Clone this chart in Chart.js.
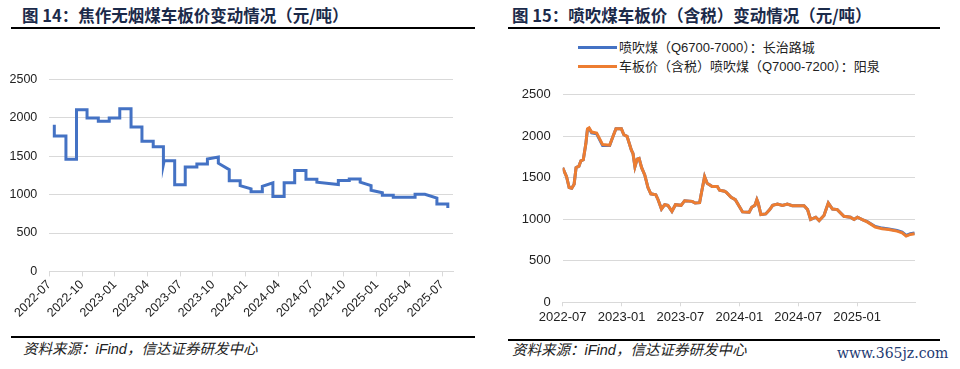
<!DOCTYPE html>
<html>
<head>
<meta charset="utf-8">
<script src="https://cdn.jsdelivr.net/npm/chart.js@4.4.1/dist/chart.umd.min.js"></script>
<style>
body{margin:0;width:960px;height:369px;background:#fff;position:relative;overflow:hidden;font-family:"Liberation Sans","Noto Sans CJK SC",sans-serif;}
.title{position:absolute;top:5px;font-size:16.5px;font-weight:bold;color:#1b2a4a;font-family:"Noto Sans CJK SC",sans-serif;line-height:20px;white-space:nowrap;}
.rule{position:absolute;height:2px;background:#000;}
.src{position:absolute;font-size:14.5px;font-style:italic;color:#222;line-height:18px;white-space:nowrap;}
canvas{position:absolute;}
.leg{position:absolute;left:578px;font-size:13px;color:#222;line-height:16px;white-space:nowrap;}
.leg i{display:inline-block;width:39px;height:3px;vertical-align:middle;margin-right:2px;position:relative;top:-1px;}
.wm{position:absolute;left:837px;top:344px;font-family:"DejaVu Serif",serif;font-size:14px;color:#1f3b73;line-height:18px;}
</style>
</head>
<body>
<div class="title" style="left:22px">图 14：焦作无烟煤车板价变动情况（元/吨）</div>
<div class="rule" style="left:11px;top:27px;width:464px"></div>
<canvas id="left" width="470" height="275" style="left:0;top:60px;width:470px;height:275px"></canvas>
<div class="rule" style="left:11px;top:336px;width:464px"></div>
<div class="src" style="left:23px;top:340px">资料来源：iFind，信达证券研发中心</div>

<div class="title" style="left:512px">图 15：喷吹煤车板价（含税）变动情况（元/吨）</div>
<div class="rule" style="left:508px;top:27px;width:432px"></div>
<div class="leg" style="top:40px"><i id="lg1"></i>喷吹煤（Q6700-7000）：长治路城</div>
<div class="leg" style="top:59px"><i id="lg2"></i>车板价（含税）喷吹煤（Q7000-7200）：阳泉</div>
<canvas id="right" width="460" height="255" style="left:480px;top:75px;width:460px;height:255px"></canvas>
<div class="rule" style="left:508px;top:339px;width:432px"></div>
<div class="src" style="left:512px;top:341px">资料来源：iFind，信达证券研发中心</div>
<div class="wm">www.365jz.com</div>

<script>
// 图14 焦作无烟煤车板价
const leftDates = [
  '2022-07-15','2022-07-15','2022-08-17','2022-08-17','2022-09-16','2022-09-16',
  '2022-10-15','2022-10-15','2022-11-16','2022-11-16','2022-12-16','2022-12-16',
  '2023-01-15','2023-01-15','2023-02-16','2023-02-16','2023-03-16','2023-03-16',
  '2023-04-17','2023-04-17','2023-05-15','2023-05-15','2023-05-17','2023-06-16',
  '2023-06-16','2023-07-15','2023-07-15','2023-08-17','2023-08-17','2023-09-16',
  '2023-09-16','2023-10-16','2023-10-16','2023-11-16','2023-11-16','2023-12-16',
  '2023-12-16','2024-01-16','2024-01-16','2024-02-17','2024-02-17','2024-03-16',
  '2024-03-16','2024-04-17','2024-04-17','2024-05-16','2024-05-16','2024-06-17',
  '2024-06-17','2024-07-17','2024-07-17','2024-09-16','2024-09-16','2024-10-16',
  '2024-10-16','2024-11-16','2024-11-16','2024-12-16','2024-12-16','2025-01-17',
  '2025-01-17','2025-02-17','2025-02-17','2025-04-17','2025-04-17','2025-05-14',
  '2025-06-17','2025-06-17','2025-07-17','2025-07-17'
];
const leftValues = [
  1910,1765,1765,1460,1460,2105,
  2105,2000,2000,1955,1955,2000,
  2000,2120,2120,1880,1880,1695,
  1695,1625,1625,1395,1440,1440,
  1130,1130,1360,1360,1400,1400,
  1465,1490,1410,1326,1180,1180,
  1117,1075,1038,1038,1109,1155,
  975,975,1155,1155,1314,1314,
  1201,1201,1163,1132,1184,1184,
  1205,1205,1163,1117,1056,1025,
  992,992,965,965,1004,1004,
  954,879,879,825
];

// 图15 喷吹煤车板价（含税）
const rightDates = [
  '2022-07-01','2022-07-13','2022-07-21','2022-07-29','2022-08-06','2022-08-12','2022-08-21','2022-08-27',
  '2022-09-04','2022-09-12','2022-09-17','2022-09-22','2022-09-30','2022-10-15','2022-11-03','2022-11-25',
  '2022-12-05','2022-12-14','2022-12-31','2023-01-08','2023-01-18','2023-02-01','2023-02-06','2023-02-12',
  '2023-02-19','2023-02-25','2023-03-02','2023-03-12','2023-03-22','2023-03-31','2023-04-16','2023-04-23',
  '2023-05-03','2023-05-13','2023-05-23','2023-06-05','2023-06-16','2023-07-03','2023-07-14','2023-08-07',
  '2023-08-16','2023-08-30','2023-09-06','2023-09-15','2023-09-23','2023-10-08','2023-10-24','2023-10-31',
  '2023-11-16','2023-11-21','2023-12-06','2023-12-19','2024-01-11','2024-02-01','2024-02-09','2024-02-19',
  '2024-02-25','2024-02-29','2024-03-07','2024-03-22','2024-04-04','2024-04-13','2024-04-28','2024-05-13',
  '2024-05-28','2024-06-13','2024-07-19','2024-07-30','2024-08-09','2024-08-25','2024-09-05','2024-09-20',
  '2024-10-03','2024-10-16','2024-10-31','2024-11-21','2024-12-11','2024-12-22','2025-01-02','2025-01-17',
  '2025-02-02','2025-02-27','2025-03-18','2025-04-08','2025-05-03','2025-05-19','2025-06-01','2025-06-14',
  '2025-06-27'
];
const changzhiValues = [
  1621,1514,1383,1375,1422,1621,1641,1705,
  1717,1912,2085,2095,2040,2030,1890,1888,
  2000,2090,2090,2019,2000,1832,1792,1633,
  1725,1733,1625,1534,1383,1307,1295,1236,
  1124,1176,1168,1097,1176,1168,1224,1216,
  1196,1200,1335,1514,1434,1395,1395,1350,
  1338,1327,1264,1236,1089,1085,1144,1168,
  1236,1196,1057,1065,1117,1168,1184,1168,
  1184,1164,1164,1117,997,1025,985,1045,
  1196,1124,1117,1037,1025,997,1025,997,
  972,914,894,884,866,845,805,826,
  835
];
const yangquanValues = [
  1621,1514,1383,1375,1422,1621,1641,1705,
  1717,1912,2090,2102,2051,2039,1900,1892,
  2000,2090,2090,2019,2000,1832,1792,1633,
  1725,1733,1625,1534,1383,1307,1295,1236,
  1124,1176,1168,1097,1176,1168,1224,1216,
  1196,1200,1335,1514,1434,1395,1395,1350,
  1338,1327,1264,1236,1089,1085,1144,1168,
  1236,1196,1057,1065,1117,1168,1184,1168,
  1184,1164,1164,1117,997,1025,985,1045,
  1196,1124,1117,1037,1025,997,1025,997,
  969,906,886,878,858,838,798,818,
  826
];

const blue = '#4472c4';
const orange = '#ed7d31';
const gridColor = '#d9d9d9';
const tickFont = {family: '"Liberation Sans", Arial, sans-serif', size: 12.5};

// 月份序号：2022-07-01 为 0
function monthIndex(s) {
  const [y, m, d] = s.split('-').map(Number);
  return (y - 2022) * 12 + (m - 7) + (d - 1) / 30.5;
}
function monthLabel(v) {
  const n = Math.round(v);
  const y = 2022 + Math.floor((n + 6) / 12);
  const m = (n + 6) % 12 + 1;
  return y + '-' + String(m).padStart(2, '0');
}
function toPoints(dates, values) {
  return dates.map((d, i) => ({x: monthIndex(d), y: values[i]}));
}

document.getElementById('lg1').style.background = blue;
document.getElementById('lg2').style.background = orange;

new Chart(document.getElementById('left'), {
  type: 'line',
  data: {
    datasets: [{
      data: toPoints(leftDates, leftValues),
      borderColor: blue,
      borderWidth: 3,
      pointRadius: 0,
      tension: 0,
      fill: false
    }]
  },
  options: {
    responsive: false,
    animation: false,
    layout: {padding: {top: 12, right: 17, left: 0, bottom: 0}},
    plugins: {legend: {display: false}, tooltip: {enabled: false}},
    scales: {
      x: {
        type: 'linear', min: 0, max: 37,
        afterFit: s => { s.height = 63.6; },
        grid: {drawOnChartArea: false, color: gridColor, tickLength: 5},
        border: {color: gridColor},
        ticks: {stepSize: 3, includeBounds: false, minRotation: 45, maxRotation: 45, autoSkip: false,
                padding: 1, color: '#222', font: tickFont, callback: monthLabel}
      },
      y: {
        min: 0, max: 2500,
        afterFit: s => { s.width = 49.3; },
        grid: {color: gridColor, drawTicks: false},
        border: {display: false},
        ticks: {stepSize: 500, padding: 12, color: '#222', font: tickFont, callback: v => String(v)}
      }
    }
  }
});

new Chart(document.getElementById('right'), {
  type: 'line',
  data: {
    datasets: [
      {data: toPoints(rightDates, changzhiValues), borderColor: blue, borderWidth: 3, pointRadius: 0, tension: 0, order: 2},
      {data: toPoints(rightDates, yangquanValues), borderColor: orange, borderWidth: 3, pointRadius: 0, tension: 0, order: 1}
    ]
  },
  options: {
    responsive: false,
    animation: false,
    layout: {padding: {top: 17.3, right: 25, left: 0, bottom: 0}},
    plugins: {legend: {display: false}, tooltip: {enabled: false}},
    scales: {
      x: {
        type: 'linear', min: 0, max: 35.9,
        afterFit: s => { s.height = 27.7; },
        grid: {drawOnChartArea: false, color: gridColor, tickLength: 4},
        border: {color: gridColor},
        ticks: {stepSize: 6, includeBounds: false, maxRotation: 0, autoSkip: false,
                padding: 3, color: '#222', font: {family: tickFont.family, size: 13}, callback: monthLabel}
      },
      y: {
        min: 0, max: 2500,
        afterFit: s => { s.width = 82.7; },
        grid: {color: gridColor, drawTicks: false},
        border: {display: false},
        ticks: {stepSize: 500, padding: 12, color: '#222', font: {family: tickFont.family, size: 13}, callback: v => String(v)}
      }
    }
  }
});
</script>
</body>
</html>
